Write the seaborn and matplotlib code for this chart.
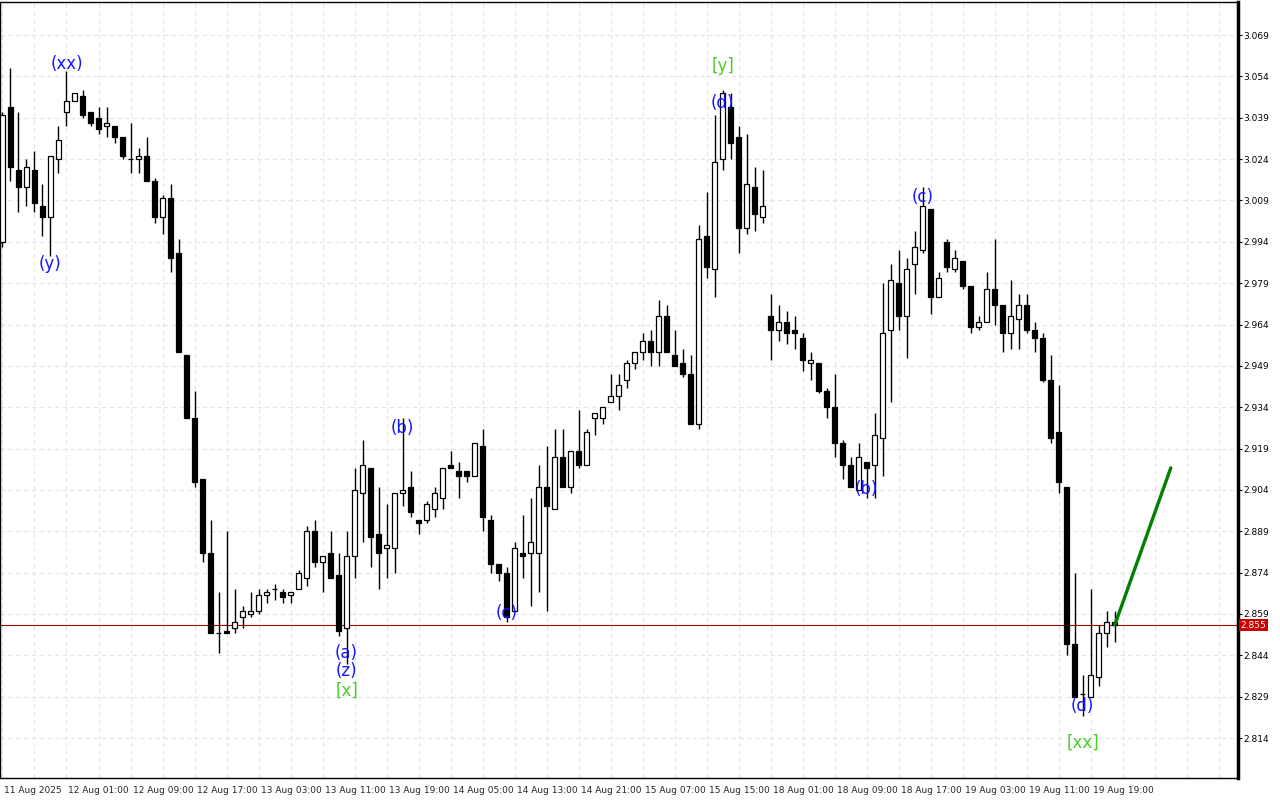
import pandas as pd
import numpy as np
import matplotlib.pyplot as plt
import seaborn as sns
from matplotlib import transforms

# H1 candles, 11 Aug 2025 .. 19 Aug 2025
opens = [2.994, 3.043, 3.020, 3.014, 3.020, 3.007, 3.003, 3.024, 3.041, 3.045,
         3.047, 3.041, 3.039, 3.036, 3.036, 3.032, 3.024, 3.024, 3.025, 3.016,
         3.003, 3.010, 2.990, 2.953, 2.930, 2.908, 2.881, 2.852, 2.853, 2.854,
         2.858, 2.859, 2.860, 2.866, 2.868, 2.867, 2.866, 2.868, 2.872, 2.889,
         2.878, 2.881, 2.873, 2.854, 2.880, 2.903, 2.912, 2.888, 2.883, 2.883,
         2.903, 2.905, 2.893, 2.893, 2.897, 2.901, 2.913, 2.911, 2.911, 2.909,
         2.920, 2.893, 2.877, 2.874, 2.860, 2.881, 2.881, 2.881, 2.905, 2.897,
         2.916, 2.905, 2.918, 2.913, 2.930, 2.930, 2.936, 2.938, 2.944, 2.950,
         2.954, 2.958, 2.954, 2.967, 2.953, 2.950, 2.946, 2.928, 2.996, 2.984,
         3.024, 3.043, 3.032, 2.999, 3.014, 3.003, 2.967, 2.962, 2.965, 2.962,
         2.959, 2.950, 2.950, 2.940, 2.934, 2.921, 2.913, 2.904, 2.914, 2.913,
         2.923, 2.962, 2.979, 2.967, 2.986, 2.991, 3.006, 2.974, 2.994, 2.984,
         2.987, 2.978, 2.963, 2.965, 2.977, 2.971, 2.961, 2.966, 2.971, 2.962,
         2.959, 2.944, 2.925, 2.905, 2.848, 2.830, 2.829, 2.836, 2.852, 2.856]
highs = [3.041, 3.057, 3.041, 3.024, 3.027, 3.015, 3.025, 3.036, 3.056, 3.048,
         3.049, 3.041, 3.043, 3.043, 3.036, 3.032, 3.037, 3.028, 3.032, 3.017,
         3.011, 3.015, 2.995, 2.953, 2.940, 2.908, 2.893, 2.867, 2.889, 2.868,
         2.862, 2.867, 2.868, 2.868, 2.870, 2.868, 2.867, 2.875, 2.891, 2.893,
         2.880, 2.889, 2.881, 2.889, 2.912, 2.922, 2.912, 2.905, 2.899, 2.903,
         2.930, 2.911, 2.893, 2.900, 2.905, 2.912, 2.918, 2.914, 2.911, 2.921,
         2.926, 2.895, 2.877, 2.876, 2.885, 2.895, 2.901, 2.913, 2.920, 2.926,
         2.926, 2.918, 2.933, 2.926, 2.932, 2.934, 2.946, 2.946, 2.951, 2.954,
         2.961, 2.962, 2.973, 2.971, 2.962, 2.955, 2.953, 3.000, 3.012, 3.040,
         3.049, 3.048, 3.036, 3.033, 3.021, 3.020, 2.975, 2.971, 2.969, 2.967,
         2.961, 2.954, 2.950, 2.941, 2.946, 2.922, 2.916, 2.921, 2.914, 2.932,
         2.979, 2.986, 2.991, 2.988, 2.998, 3.014, 3.006, 2.983, 2.995, 2.991,
         2.987, 2.978, 2.967, 2.983, 2.995, 2.971, 2.980, 2.975, 2.975, 2.965,
         2.961, 2.953, 2.942, 2.905, 2.874, 2.837, 2.868, 2.855, 2.860, 2.860]
lows = [2.992, 3.016, 3.005, 3.007, 3.005, 2.996, 2.989, 3.019, 3.036, 3.045,
        3.039, 3.036, 3.033, 3.032, 3.030, 3.024, 3.019, 3.019, 3.016, 3.001,
        2.997, 2.983, 2.954, 2.930, 2.905, 2.878, 2.852, 2.845, 2.852, 2.852,
        2.854, 2.858, 2.859, 2.863, 2.864, 2.863, 2.863, 2.868, 2.869, 2.876,
        2.867, 2.872, 2.851, 2.841, 2.872, 2.885, 2.876, 2.868, 2.872, 2.874,
        2.898, 2.894, 2.888, 2.892, 2.894, 2.897, 2.912, 2.901, 2.907, 2.909,
        2.889, 2.874, 2.871, 2.856, 2.860, 2.872, 2.862, 2.867, 2.860, 2.897,
        2.905, 2.903, 2.912, 2.913, 2.924, 2.928, 2.936, 2.933, 2.941, 2.948,
        2.951, 2.949, 2.949, 2.954, 2.949, 2.945, 2.928, 2.926, 2.981, 2.974,
        3.020, 3.024, 2.990, 2.997, 2.998, 3.001, 2.951, 2.958, 2.957, 2.955,
        2.947, 2.944, 2.939, 2.930, 2.916, 2.908, 2.905, 2.904, 2.901, 2.901,
        2.909, 2.936, 2.962, 2.952, 2.975, 2.990, 2.968, 2.974, 2.983, 2.983,
        2.977, 2.961, 2.962, 2.965, 2.964, 2.954, 2.955, 2.955, 2.961, 2.954,
        2.943, 2.921, 2.903, 2.844, 2.829, 2.822, 2.829, 2.833, 2.847, 2.849]
closes = [3.040, 3.021, 3.014, 3.021, 3.008, 3.003, 3.025, 3.031, 3.045, 3.048,
          3.040, 3.037, 3.035, 3.037, 3.032, 3.025, 3.024, 3.025, 3.016, 3.003,
          3.010, 2.988, 2.954, 2.930, 2.907, 2.881, 2.852, 2.852, 2.852, 2.856,
          2.860, 2.860, 2.866, 2.867, 2.868, 2.865, 2.867, 2.874, 2.889, 2.878,
          2.880, 2.872, 2.853, 2.880, 2.904, 2.913, 2.887, 2.881, 2.884, 2.903,
          2.904, 2.896, 2.892, 2.899, 2.903, 2.912, 2.912, 2.909, 2.909, 2.921,
          2.894, 2.877, 2.874, 2.858, 2.883, 2.880, 2.885, 2.905, 2.898, 2.916,
          2.905, 2.918, 2.913, 2.925, 2.932, 2.934, 2.938, 2.942, 2.950, 2.954,
          2.958, 2.954, 2.967, 2.954, 2.949, 2.946, 2.928, 2.995, 2.985, 3.023,
          3.048, 3.030, 2.999, 3.015, 3.004, 3.007, 2.962, 2.965, 2.961, 2.961,
          2.951, 2.951, 2.940, 2.934, 2.921, 2.913, 2.905, 2.916, 2.912, 2.924,
          2.961, 2.980, 2.967, 2.984, 2.992, 3.007, 2.974, 2.981, 2.985, 2.988,
          2.978, 2.963, 2.965, 2.977, 2.971, 2.961, 2.967, 2.971, 2.962, 2.959,
          2.944, 2.923, 2.907, 2.848, 2.829, 2.830, 2.837, 2.852, 2.856, 2.855]

date_labels = ["11 Aug 2025", "12 Aug 01:00", "12 Aug 09:00", "12 Aug 17:00",
               "13 Aug 03:00", "13 Aug 11:00", "13 Aug 19:00", "14 Aug 05:00",
               "14 Aug 13:00", "14 Aug 21:00", "15 Aug 07:00", "15 Aug 15:00",
               "18 Aug 01:00", "18 Aug 09:00", "18 Aug 17:00", "19 Aug 03:00",
               "19 Aug 11:00", "19 Aug 19:00"]
price_ticks = [2.814, 2.829, 2.844, 2.859, 2.874, 2.889, 2.904, 2.919, 2.934,
               2.949, 2.964, 2.979, 2.994, 3.009, 3.024, 3.039, 3.054, 3.069]
last_price = 2.855

# wave marks: text, bar, price, colour group
wave_text = ["(xx)", "(y)", "(a)", "(z)", "[x]", "(b)", "(c)", "[y]", "(d)",
             "(c)", "(b)", "(d)", "[xx]"]
wave_bar = [8, 6, 43, 43, 43, 50, 63, 90, 90, 115, 108, 135, 135]
wave_price = [3.0585, 2.9859, 2.8449, 2.8383, 2.8311, 2.9265, 2.8594, 3.0578,
              3.0443, 3.0102, 2.9043, 2.8256, 2.8122]
wave_kind = ["minor", "minor", "minor", "minor", "major", "minor", "minor",
             "major", "minor", "minor", "minor", "minor", "major"]

# projected move
proj_bar = [139, 146]
proj_price = [2.855, 2.912]

df = pd.DataFrame({'open': opens, 'high': highs, 'low': lows, 'close': closes})
df['bar'] = np.arange(len(df))
df['up'] = df['close'] >= df['open']

sns.set_style('white')
plt.rcParams['font.family'] = ['DejaVu Sans']

fig = plt.figure(figsize=(12.8, 8), dpi=100)
ax = fig.add_axes([0, 22 / 800, 1238 / 1280, 776 / 800])

# candles
ax.vlines(df['bar'], df['low'], df['high'], color='black', lw=1, zorder=2)
body_bottom = df[['open', 'close']].min(axis=1)
body_h = (df['close'] - df['open']).abs()
ax.bar(df['bar'], body_h, bottom=body_bottom, width=0.6,
       color=np.where(df['up'], 'white', 'black'), edgecolor='black',
       linewidth=0.9, zorder=3)

# last price line
ax.axhline(last_price, color='#a00000', lw=0.8, zorder=1)

# forecast line
sns.lineplot(x=proj_bar, y=proj_price, color='#008000', lw=2.4, ax=ax, zorder=4)

colors = {'minor': '#1414ff', 'major': '#4ccc2a'}
for t, b, p, k in zip(wave_text, wave_bar, wave_price, wave_kind):
    ax.text(b, p, t, ha='center', va='center', fontsize=12, color=colors[k], zorder=5)

ax.set_xlim(-0.31, 154.4)
ax.set_ylim(2.7995, 3.0810)

# axes / ticks
ax.yaxis.tick_right()
ax.set_yticks(price_ticks)
ax.set_yticklabels([f'{v:.3f}' for v in price_ticks])
ax.tick_params(axis='y', direction='out', length=3, width=0.8, pad=1,
               labelsize=6.5, colors='black')

ax.set_xticks(np.arange(len(date_labels)) * 8)
ax.set_xticklabels(date_labels)
ax.set_xticks(np.arange(0, 155, 4), minor=True)
ax.tick_params(axis='x', which='major', direction='out', length=5, width=0.8,
               pad=1, labelsize=6.5)
ax.tick_params(axis='x', which='minor', length=0)
shift = transforms.ScaledTranslation(2 / 100, 0, fig.dpi_scale_trans)
for lab in ax.get_xticklabels():
    lab.set_horizontalalignment('left')
    lab.set_transform(lab.get_transform() + shift)

ax.grid(axis='y', color='#e4e4e4', linestyle=(0, (4, 3)), lw=0.8)
ax.grid(axis='x', which='both', color='#e4e4e4', linestyle=(0, (4, 3)), lw=0.8)
ax.set_axisbelow(True)

for side in ['left', 'top', 'bottom']:
    ax.spines[side].set_color('black')
    ax.spines[side].set_linewidth(1)
ax.spines['right'].set_color('black')
ax.spines['right'].set_linewidth(2.5)

ax.text(1.002, last_price, f'{last_price:.3f}',
        transform=transforms.blended_transform_factory(ax.transAxes, ax.transData),
        ha='left', va='center', fontsize=6.5, color='white', clip_on=False,
        bbox=dict(boxstyle='square,pad=0.2', fc='#cc0000', ec='none'), zorder=6)

fig.savefig('out.png', dpi=100, facecolor='white')
